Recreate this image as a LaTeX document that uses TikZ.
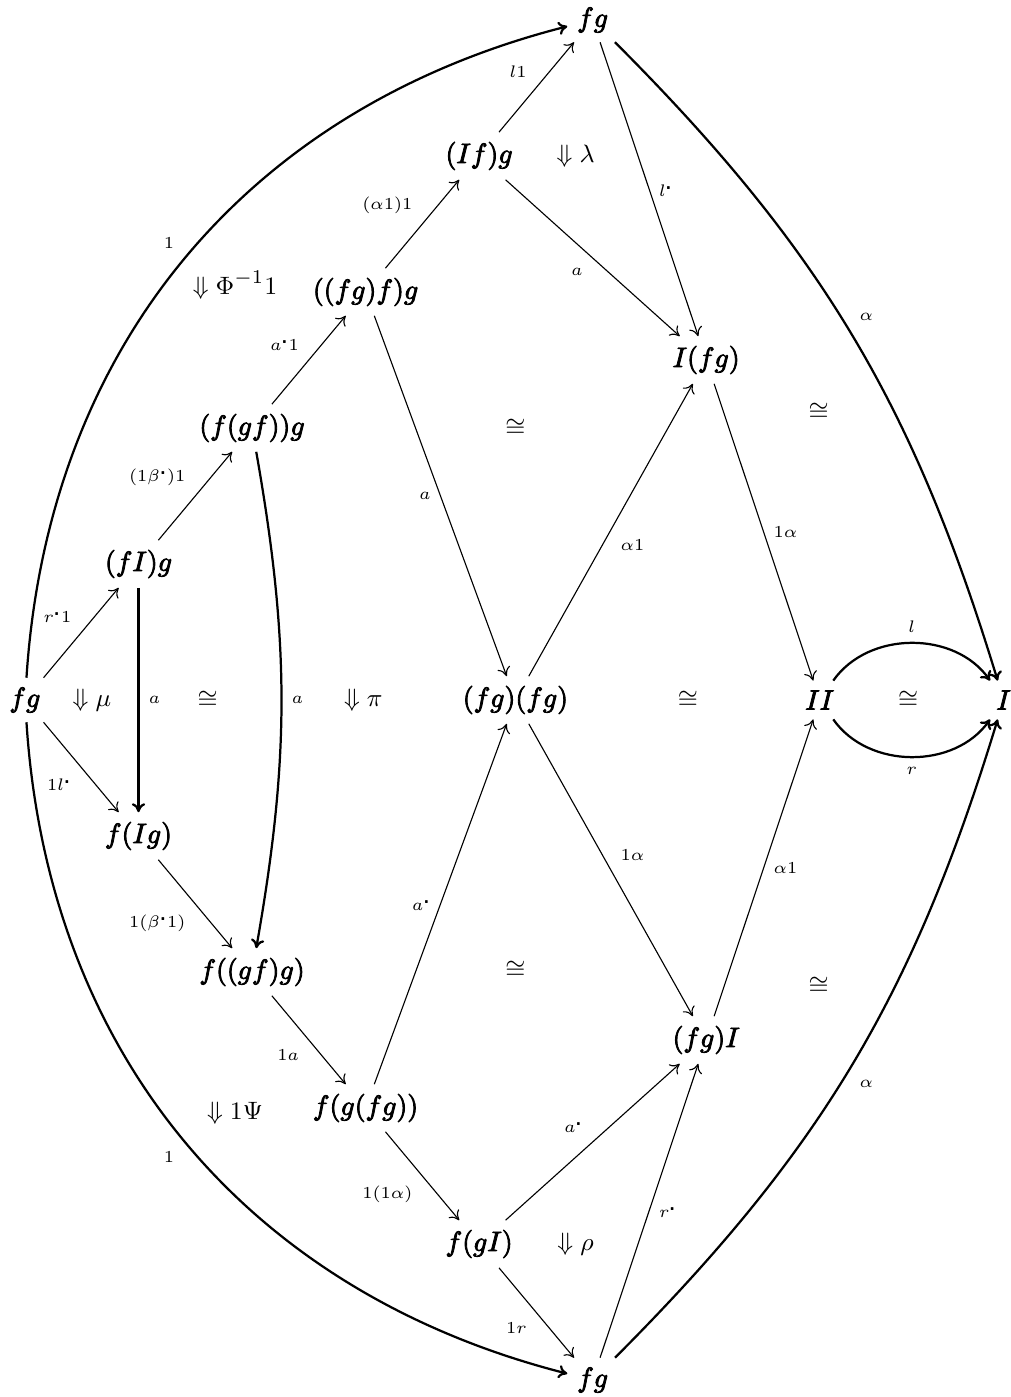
\documentclass[tikz,border=0pt]{standalone}
\usepackage{amsmath}
\usepackage{amssymb}
\usetikzlibrary{arrows.meta}

\begin{document}
\begin{tikzpicture}[x=1.43cm, y=1.713cm,
    >={Computer Modern Rightarrow[length=3.2pt, width=4.8pt]},
    obj/.style={font=\fontsize{9.6}{11}\selectfont,
      execute at begin node={\special{pdf:literal direct 2 Tr 0.3 w}}},
    cell/.style={font=\fontsize{9.4}{11}\selectfont},
    lab/.style={font=\fontsize{6.4}{7}\selectfont}]
  \useasboundingbox (-0.22,-5.125) rectangle (8.678,5.147);

  \node[obj] (fgl) at (0,0) {$fg$};
  \node[obj] (u1) at (1,1) {$(fI)g$};
  \node[obj] (u2) at (2,2) {$(f(gf))g$};
  \node[obj] (u3) at (3,3) {$((fg)f)g$};
  \node[obj] (u4) at (4,4) {$(If)g$};
  \node[obj] (fgt) at (5,5) {$fg$};
  \node[obj] (d1) at (1,-1) {$f(Ig)$};
  \node[obj] (d2) at (2,-2) {$f((gf)g)$};
  \node[obj] (d3) at (3,-3) {$f(g(fg))$};
  \node[obj] (d4) at (4,-4) {$f(gI)$};
  \node[obj] (fgb) at (5,-5) {$fg$};
  \node[obj] (mid) at (4.32,0) {$(fg)(fg)$};
  \node[obj] (Ifg) at (6,2.5) {$I(fg)$};
  \node[obj] (fgI) at (6,-2.5) {$(fg)I$};
  \node[obj] (II) at (7,0) {$II$};
  \node[obj] (I) at (8.62,0) {$I$};

  % the 2-cells
  \node[cell] (phi) at (1.85,3.05) {$\Downarrow\Phi^{-1}1$};
  \node[cell] (lam) at (4.85,4) {$\Downarrow\lambda$};
  \node[cell] (mu) at (0.59,0) {$\Downarrow\mu$};
  \node[cell] (c1) at (1.61,0) {$\cong$};
  \node[cell] (pi) at (2.98,0) {$\Downarrow\pi$};
  \node[cell] (c2) at (4.32,2) {$\cong$};
  \node[cell] (c3) at (4.32,-1.985) {$\cong$};
  \node[cell] (c4) at (5.84,0) {$\cong$};
  \node[cell] (c5) at (6.99,2.12) {$\cong$};
  \node[cell] (c6) at (6.99,-2.1) {$\cong$};
  \node[cell] (c7) at (7.78,0) {$\cong$};
  \node[cell] (psi) at (1.85,-3.04) {$\Downarrow1\Psi$};
  \node[cell] (rho) at (4.85,-4) {$\Downarrow\rho$};

  \draw[->] (fgl) -- node[lab, above left] {$r^{\centerdot}1$} (u1);
  \draw[->] (fgl) -- node[lab, below left] {$1l^{\centerdot}$} (d1);
  \draw[thick, ->] (u1) -- node[lab, right] {$a$} (d1);
  \draw[->] (u1) -- node[lab, above left] {$(1\beta^{\centerdot})1$} (u2);
  \draw[->] (d1) -- node[lab, below left] {$1(\beta^{\centerdot}1)$} (d2);
  \draw[thick, ->] (u2) to[bend left=10] node[lab, right] {$a$} (d2);
  \draw[->] (u2) -- node[lab, above left] {$a^{\centerdot}1$} (u3);
  \draw[->] (u3) -- node[lab, above left] {$(\alpha1)1$} (u4);
  \draw[->] (u4) -- node[lab, above left] {$l1$} (fgt);
  \draw[->] (fgt) -- node[lab, right] {$l^{\centerdot}$} (Ifg);
  \draw[->] (u4) -- node[lab, below left] {$a$} (Ifg);
  \draw[->] (u3) -- node[lab, left] {$a$} (mid);
  \draw[->] (mid) -- node[lab, below right] {$\alpha1$} (Ifg);
  \draw[->] (Ifg) -- node[lab, right] {$1\alpha$} (II);
  \draw[->] (mid) -- node[lab, above right] {$1\alpha$} (fgI);
  \draw[->] (fgI) -- node[lab, right] {$\alpha1$} (II);
  \draw[->] (d2) -- node[lab, below left] {$1a$} (d3);
  \draw[->] (d3) -- node[lab, left] {$a^{\centerdot}$} (mid);
  \draw[->] (d3) -- node[lab, below left] {$1(1\alpha)$} (d4);
  \draw[->] (d4) -- node[lab, above left] {$a^{\centerdot}$} (fgI);
  \draw[->] (d4) -- node[lab, below left] {$1r$} (fgb);
  \draw[->] (fgb) -- node[lab, right] {$r^{\centerdot}$} (fgI);

  % outer arcs
  \draw[thick, ->] (fgl) to[bend left=36] node[lab, above left] {$1$} (fgt);
  \draw[thick, ->] (fgl) to[bend right=36] node[lab, below left] {$1$} (fgb);
  \draw[thick, ->] (fgt) to[bend left=14] node[lab, pos=0.47, right=3pt] {$\alpha$} (I);
  \draw[thick, ->] (fgb) to[bend right=14] node[lab, pos=0.47, right=3pt] {$\alpha$} (I);
  \draw[thick, ->] (II) to[bend left=55] node[lab, above] {$l$} (I);
  \draw[thick, ->] (II) to[bend right=55] node[lab, below] {$r$} (I);
\end{tikzpicture}
\end{document}
